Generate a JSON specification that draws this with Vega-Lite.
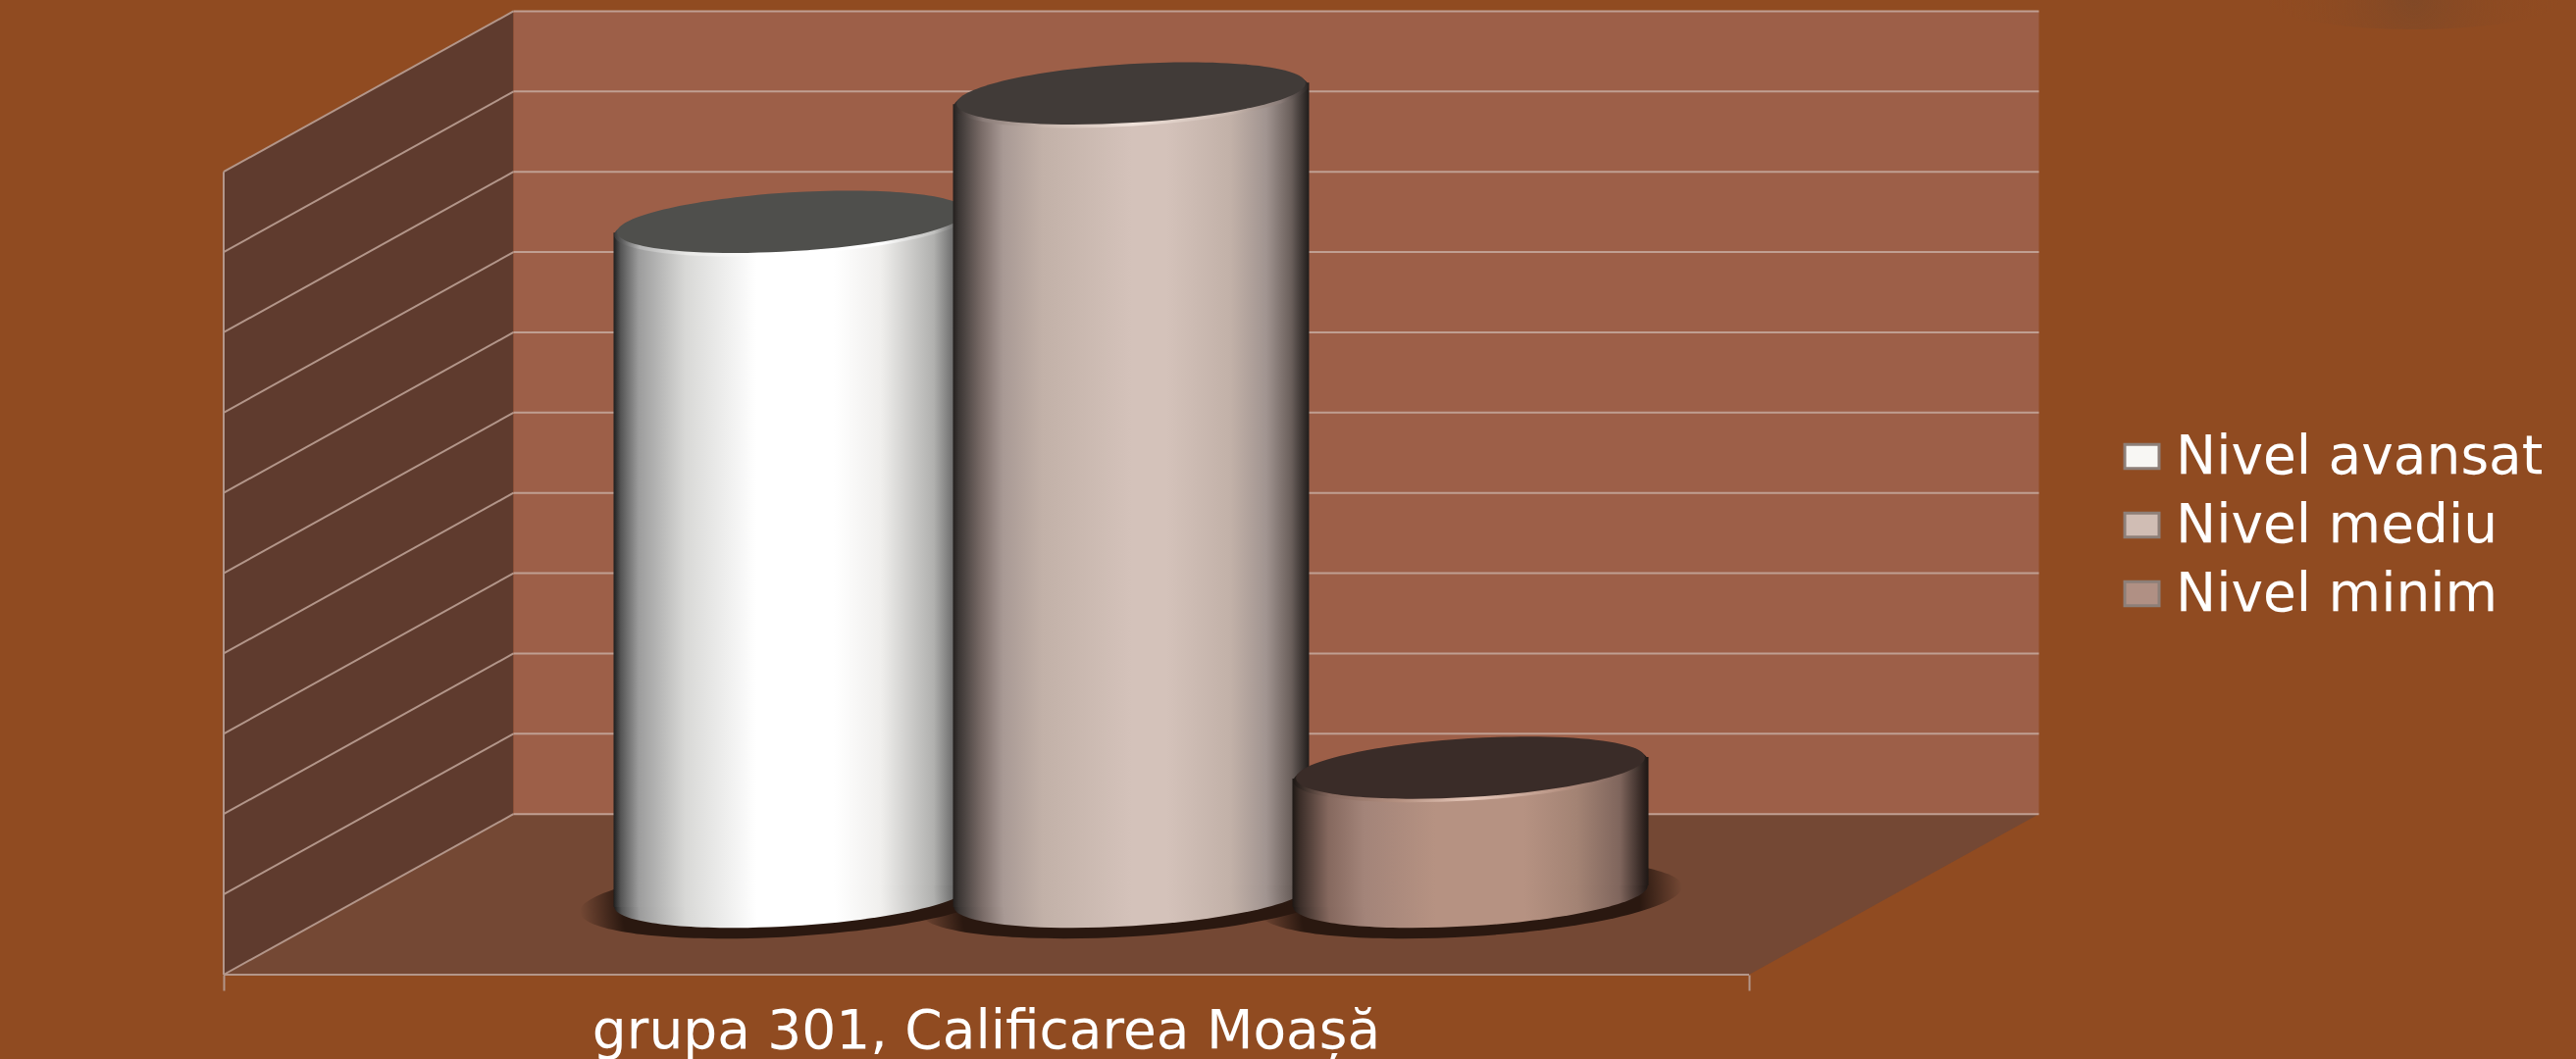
{"$schema":"https://vega.github.io/schema/vega-lite/v6.json","width":2398,"height":994,"autosize":{"type":"none"},"padding":{"left":228,"top":0,"right":0,"bottom":86},"background":"#904b21","config":{"view":{"stroke":null},"font":"DejaVu Sans"},"datasets":{"bars":[{"series":"Nivel avansat","value":42},{"series":"Nivel mediu","value":50},{"series":"Nivel minim","value":8}],"levels":[{"tick":0,"back":10},{"tick":5,"back":15},{"tick":10,"back":20},{"tick":15,"back":25},{"tick":20,"back":30},{"tick":25,"back":35},{"tick":30,"back":40},{"tick":35,"back":45},{"tick":40,"back":50},{"tick":45,"back":55},{"tick":50,"back":60}],"side":[{"px":0,"lo":0,"hi":50},{"px":0.19,"lo":10,"hi":60}],"wall":[{"px":0.19,"lo":10,"hi":60},{"px":1.19,"lo":10,"hi":60}],"floor":[{"py":0,"a":0,"b":1},{"py":10,"a":0.19,"b":1.19}],"spot":[{"px":1.436,"py":60.7}]},"resolve":{"scale":{"x":"independent"}},"layer":[{"data":{"name":"spot"},"mark":{"type":"point","filled":true,"opacity":1,"size":90000,"shape":"M-1,0A1,0.2 0 1 1 1,0A1,0.2 0 1 1 -1,0Z","fill":{"gradient":"radial","stops":[{"offset":0,"color":"rgba(110,70,45,0.45)"},{"offset":1,"color":"rgba(144,75,33,0)"}]}},"encoding":{"x":{"field":"px","type":"quantitative","scale":{"domain":[0,1.5421],"nice":false,"zero":false},"axis":{"values":[0,1],"labels":false,"domain":false,"grid":false,"ticks":true,"tickColor":"#b3968a","tickWidth":2,"tickSize":16,"title":"grupa 301, Calificarea Moașă","titleColor":"#ffffff","titleFont":"DejaVu Sans","titleFontSize":55,"titleFontWeight":"normal","titleX":777,"titleY":74,"titleAlign":"center","titleBaseline":"alphabetic"}},"y":{"field":"py","type":"quantitative","scale":{"domain":[0,60.7],"nice":false,"zero":false},"axis":{"values":[0,5,10,15,20,25,30,35,40,45,50],"labelExpr":"datum.value+'%'","domain":false,"grid":false,"tickColor":"#b3968a","tickWidth":2,"tickSize":20,"labelColor":"#ffffff","labelFont":"DejaVu Sans","labelFontSize":55,"labelPadding":39,"title":null}}}},{"layer":[{"data":{"name":"side"},"mark":{"type":"area","fill":"#5f3b2e","line":false},"encoding":{"x":{"field":"px","type":"quantitative","axis":null,"scale":{"domain":[0,1.5421],"nice":false,"zero":false}},"y":{"field":"lo","type":"quantitative","axis":null},"y2":{"field":"hi"}}},{"data":{"name":"wall"},"mark":{"type":"area","fill":"#9d5f48"},"encoding":{"x":{"field":"px","type":"quantitative","axis":null},"y":{"field":"lo","type":"quantitative","axis":null},"y2":{"field":"hi"}}},{"data":{"name":"floor"},"mark":{"type":"area","orient":"horizontal","fill":"#744834"},"encoding":{"y":{"field":"py","type":"quantitative","axis":null},"x":{"field":"a","type":"quantitative","axis":null},"x2":{"field":"b"}}},{"data":{"name":"levels"},"mark":{"type":"rule","color":"#b3968a","strokeWidth":2},"encoding":{"x":{"datum":0,"type":"quantitative","axis":null},"x2":{"datum":0.19},"y":{"field":"tick","type":"quantitative","axis":null},"y2":{"field":"back"}}},{"data":{"name":"levels"},"mark":{"type":"rule","color":"#c09f92","strokeWidth":2},"encoding":{"x":{"datum":0.19,"type":"quantitative","axis":null},"x2":{"datum":1.19},"y":{"field":"back","type":"quantitative","axis":null}}},{"data":{"values":[{"low":0,"high":50}]},"mark":{"type":"rule","color":"#b3968a","strokeWidth":2},"encoding":{"x":{"datum":0,"type":"quantitative","axis":null},"y":{"field":"low","type":"quantitative","axis":null},"y2":{"field":"high"}}},{"data":{"values":[{"low":0}]},"mark":{"type":"rule","color":"#b3968a","strokeWidth":2},"encoding":{"x":{"datum":0,"type":"quantitative","axis":null},"x2":{"datum":1},"y":{"field":"low","type":"quantitative","axis":null}}}]},{"data":{"name":"bars"},"encoding":{"x":{"field":"series","type":"nominal","axis":null,"scale":{"type":"point","domain":["Nivel avansat","Nivel mediu","Nivel minim"],"padding":0,"range":[579,1271]}},"y":{"field":"value","type":"quantitative","stack":null,"axis":null}},"layer":[{"mark":{"type":"point","filled":true,"opacity":0,"size":100},"encoding":{"color":{"field":"series","type":"nominal","scale":{"domain":["Nivel avansat","Nivel mediu","Nivel minim"],"range":["#f8f7f4","#d0bdb4","#b09084"]},"legend":{"title":null,"orient":"none","legendX":1928,"legendY":438,"padding":0,"symbolType":"M-1,-0.7H1V0.7H-1Z","symbolSize":1225,"symbolOpacity":1,"symbolStrokeColor":"#8d7f78","symbolStrokeWidth":3,"labelColor":"#ffffff","labelFont":"DejaVu Sans","labelFontSize":55,"labelOffset":7,"labelLimit":600,"rowPadding":14}}}},{"mark":{"type":"point","filled":true,"opacity":1,"size":186624,"yOffset":-77,"shape":"M-1,0A1,0.176 0 1 1 1,0A1,0.176 0 1 1 -1,0Z","angle":-3.5,"fill":{"gradient":"radial","stops":[{"offset":0,"color":"#2a1810"},{"offset":0.8,"color":"#2a1810"},{"offset":1,"color":"rgba(42,24,16,0)"}]}},"encoding":{"y":{"datum":0,"type":"quantitative","axis":null}}},{"transform":[{"filter":"datum.series==='Nivel avansat'"}],"layer":[{"mark":{"type":"point","filled":true,"opacity":1,"size":131044,"yOffset":-80,"angle":-3.5,"shape":"M-1,0A1,0.168 0 1 1 1,0A1,0.168 0 1 1 -1,0Z","fill":{"gradient":"linear","x1":0,"x2":1,"y1":0,"y2":0,"stops":[{"offset":0,"color":"#1e1e1e"},{"offset":0.02,"color":"#555555"},{"offset":0.07,"color":"#9c9c9c"},{"offset":0.2,"color":"#d8d8d6"},{"offset":0.4,"color":"#ffffff"},{"offset":0.62,"color":"#ffffff"},{"offset":0.75,"color":"#f0efed"},{"offset":0.9,"color":"#b0b0ae"},{"offset":0.97,"color":"#5a5a5a"},{"offset":1,"color":"#222222"}]}},"encoding":{"y":{"datum":0,"type":"quantitative","axis":null}}},{"mark":{"type":"bar","orient":"vertical","size":182,"xOffset":-90.5,"yOffset":-69,"y2Offset":-69,"fill":{"gradient":"linear","x1":0,"x2":1,"y1":0,"y2":0,"stops":[{"offset":0,"color":"#1e1e1e"},{"offset":0.04,"color":"#555555"},{"offset":0.14,"color":"#9c9c9c"},{"offset":0.4,"color":"#d8d8d6"},{"offset":0.8,"color":"#ffffff"},{"offset":1,"color":"#ffffff"}]}},"encoding":{"y2":{"datum":0}}},{"mark":{"type":"bar","orient":"vertical","size":182,"xOffset":90.5,"yOffset":-91,"y2Offset":-91,"fill":{"gradient":"linear","x1":0,"x2":1,"y1":0,"y2":0,"stops":[{"offset":0,"color":"#ffffff"},{"offset":0.24,"color":"#ffffff"},{"offset":0.5,"color":"#f0efed"},{"offset":0.8,"color":"#b0b0ae"},{"offset":0.94,"color":"#5a5a5a"},{"offset":1,"color":"#222222"}]}},"encoding":{"y2":{"datum":0}}},{"mark":{"type":"point","filled":true,"opacity":1,"size":131044,"yOffset":-77,"angle":-3.5,"shape":"M-1,0A1,0.168 0 1 1 1,0A1,0.168 0 1 1 -1,0Z","fill":{"gradient":"linear","x1":0,"x2":1,"y1":0,"y2":0,"stops":[{"offset":0,"color":"#3a3a3a"},{"offset":0.07,"color":"#b5b5b5"},{"offset":0.2,"color":"#e8e8e6"},{"offset":0.4,"color":"#ffffff"},{"offset":0.75,"color":"#ffffff"},{"offset":0.9,"color":"#c0c0be"},{"offset":1,"color":"#333333"}]}}},{"mark":{"type":"point","filled":true,"opacity":1,"size":127000,"yOffset":-80,"angle":-3.5,"shape":"M-1,0A1,0.168 0 1 1 1,0A1,0.168 0 1 1 -1,0Z","fill":"#4f4f4c"}}]},{"transform":[{"filter":"datum.series==='Nivel mediu'"}],"layer":[{"mark":{"type":"point","filled":true,"opacity":1,"size":131044,"yOffset":-80,"angle":-3.5,"shape":"M-1,0A1,0.168 0 1 1 1,0A1,0.168 0 1 1 -1,0Z","fill":{"gradient":"linear","x1":0,"x2":1,"y1":0,"y2":0,"stops":[{"offset":0,"color":"#231f1d"},{"offset":0.015,"color":"#3a3533"},{"offset":0.08,"color":"#7a6c68"},{"offset":0.14,"color":"#a89994"},{"offset":0.25,"color":"#c2b1a8"},{"offset":0.5,"color":"#d4c2ba"},{"offset":0.6,"color":"#d4c2ba"},{"offset":0.78,"color":"#c2b1a8"},{"offset":0.88,"color":"#a19490"},{"offset":0.95,"color":"#6a5f5b"},{"offset":1,"color":"#201c1a"}]}},"encoding":{"y":{"datum":0,"type":"quantitative","axis":null}}},{"mark":{"type":"bar","orient":"vertical","size":182,"xOffset":-90.5,"yOffset":-69,"y2Offset":-69,"fill":{"gradient":"linear","x1":0,"x2":1,"y1":0,"y2":0,"stops":[{"offset":0,"color":"#231f1d"},{"offset":0.03,"color":"#3a3533"},{"offset":0.16,"color":"#7a6c68"},{"offset":0.28,"color":"#a89994"},{"offset":0.5,"color":"#c2b1a8"},{"offset":1,"color":"#d4c2ba"}]}},"encoding":{"y2":{"datum":0}}},{"mark":{"type":"bar","orient":"vertical","size":182,"xOffset":90.5,"yOffset":-91,"y2Offset":-91,"fill":{"gradient":"linear","x1":0,"x2":1,"y1":0,"y2":0,"stops":[{"offset":0,"color":"#d4c2ba"},{"offset":0.2,"color":"#d4c2ba"},{"offset":0.56,"color":"#c2b1a8"},{"offset":0.76,"color":"#a19490"},{"offset":0.9,"color":"#6a5f5b"},{"offset":1,"color":"#201c1a"}]}},"encoding":{"y2":{"datum":0}}},{"mark":{"type":"point","filled":true,"opacity":1,"size":131044,"yOffset":-77,"angle":-3.5,"shape":"M-1,0A1,0.168 0 1 1 1,0A1,0.168 0 1 1 -1,0Z","fill":{"gradient":"linear","x1":0,"x2":1,"y1":0,"y2":0,"stops":[{"offset":0,"color":"#2a2523"},{"offset":0.08,"color":"#8a7c78"},{"offset":0.25,"color":"#c8b7ae"},{"offset":0.5,"color":"#f0e2da"},{"offset":0.78,"color":"#c8b7ae"},{"offset":0.92,"color":"#8a7c78"},{"offset":1,"color":"#2a2523"}]}}},{"mark":{"type":"point","filled":true,"opacity":1,"size":127000,"yOffset":-80,"angle":-3.5,"shape":"M-1,0A1,0.168 0 1 1 1,0A1,0.168 0 1 1 -1,0Z","fill":"#413b38"}}]},{"transform":[{"filter":"datum.series==='Nivel minim'"}],"layer":[{"mark":{"type":"point","filled":true,"opacity":1,"size":131044,"yOffset":-80,"angle":-3.5,"shape":"M-1,0A1,0.168 0 1 1 1,0A1,0.168 0 1 1 -1,0Z","fill":{"gradient":"linear","x1":0,"x2":1,"y1":0,"y2":0,"stops":[{"offset":0,"color":"#1e1815"},{"offset":0.02,"color":"#3a2d28"},{"offset":0.1,"color":"#85685e"},{"offset":0.2,"color":"#a38479"},{"offset":0.4,"color":"#b69282"},{"offset":0.65,"color":"#b69282"},{"offset":0.8,"color":"#a38374"},{"offset":0.92,"color":"#7f655c"},{"offset":0.99,"color":"#2a1f1c"},{"offset":1,"color":"#1e1815"}]}},"encoding":{"y":{"datum":0,"type":"quantitative","axis":null}}},{"mark":{"type":"bar","orient":"vertical","size":182,"xOffset":-90.5,"yOffset":-69,"y2Offset":-69,"fill":{"gradient":"linear","x1":0,"x2":1,"y1":0,"y2":0,"stops":[{"offset":0,"color":"#1e1815"},{"offset":0.04,"color":"#3a2d28"},{"offset":0.2,"color":"#85685e"},{"offset":0.4,"color":"#a38479"},{"offset":0.8,"color":"#b69282"},{"offset":1,"color":"#b69282"}]}},"encoding":{"y2":{"datum":0}}},{"mark":{"type":"bar","orient":"vertical","size":182,"xOffset":90.5,"yOffset":-91,"y2Offset":-91,"fill":{"gradient":"linear","x1":0,"x2":1,"y1":0,"y2":0,"stops":[{"offset":0,"color":"#b69282"},{"offset":0.3,"color":"#b69282"},{"offset":0.6,"color":"#a38374"},{"offset":0.84,"color":"#7f655c"},{"offset":0.98,"color":"#2a1f1c"},{"offset":1,"color":"#1e1815"}]}},"encoding":{"y2":{"datum":0}}},{"mark":{"type":"point","filled":true,"opacity":1,"size":131044,"yOffset":-77,"angle":-3.5,"shape":"M-1,0A1,0.168 0 1 1 1,0A1,0.168 0 1 1 -1,0Z","fill":{"gradient":"linear","x1":0,"x2":1,"y1":0,"y2":0,"stops":[{"offset":0,"color":"#1e1815"},{"offset":0.1,"color":"#85685e"},{"offset":0.3,"color":"#b69282"},{"offset":0.5,"color":"#e6c8ba"},{"offset":0.75,"color":"#b69282"},{"offset":0.92,"color":"#7f655c"},{"offset":1,"color":"#1e1815"}]}}},{"mark":{"type":"point","filled":true,"opacity":1,"size":127000,"yOffset":-80,"angle":-3.5,"shape":"M-1,0A1,0.168 0 1 1 1,0A1,0.168 0 1 1 -1,0Z","fill":"#3a2c28"}}]}]}]}
